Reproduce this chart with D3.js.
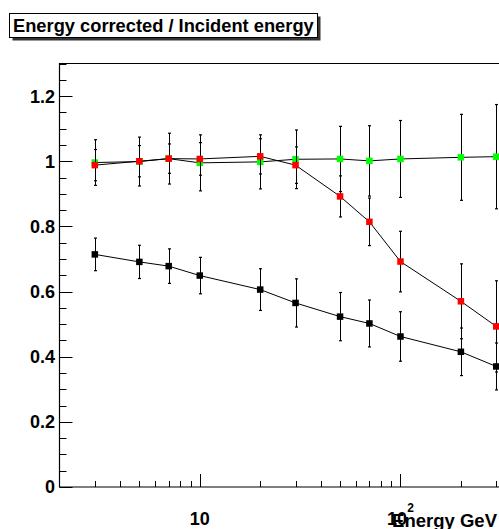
<!DOCTYPE html>
<html>
<head>
<meta charset="utf-8">
<script src="https://cdn.jsdelivr.net/npm/d3@7"></script>
<style>
  html, body { margin: 0; padding: 0; background: #fff; }
  svg { display: block; }
  text { font-family: "Liberation Sans", Arial, Helvetica, sans-serif; font-weight: bold; fill: #000; }
</style>
</head>
<body>
<svg id="chart" width="499" height="529"></svg>
<script>
// Beam energies (GeV) and the measured energy ratios with their errors
const energies = [3, 5, 7, 10, 20, 30, 50, 70, 100, 200, 300];

const flatRatio    = [0.996, 0.999, 1.008, 0.995, 0.998, 1.006, 1.007, 1.001, 1.007, 1.012, 1.014];
const flatError    = [0.070, 0.075, 0.078, 0.086, 0.083, 0.090, 0.100, 0.108, 0.118, 0.132, 0.160];

const droopRatio   = [0.988, 1.000, 1.008, 1.007, 1.015, 0.988, 0.892, 0.814, 0.692, 0.570, 0.493];
const droopError   = [0.048, 0.048, 0.045, 0.050, 0.054, 0.056, 0.063, 0.073, 0.093, 0.115, 0.140];

const rawRatio     = [0.714, 0.691, 0.678, 0.649, 0.606, 0.565, 0.523, 0.502, 0.462, 0.415, 0.370];
const rawError     = [0.050, 0.051, 0.053, 0.056, 0.064, 0.074, 0.074, 0.072, 0.076, 0.073, 0.072];

// Axis ticks and labels
const yMajorTicks  = [0, 0.2, 0.4, 0.6, 0.8, 1.0, 1.2];
const yTickLabels  = ["0", "0.2", "0.4", "0.6", "0.8", "1", "1.2"];
const xMajorTicks  = [10, 100];
const xTickBases   = ["10", "10"];
const xTickExps    = ["", "2"];
const xMinorTicks  = [3, 4, 5, 6, 7, 8, 9, 20, 30, 40, 50, 60, 70, 80, 90, 200, 300, 400];

const titleText = "Energy corrected / Incident energy";
const xTitle = "Energy GeV";

const svg = d3.select("#chart");

// Frame geometry
const frameLeft = 59.5, frameTop = 63.5, frameBottom = 487;
const decadePx = 200.7;
const xDomain = [2, 500];
const frameRight = frameLeft + decadePx * Math.log10(xDomain[1] / xDomain[0]);

const x = d3.scaleLog().domain(xDomain).range([frameLeft, frameRight]);
const y = d3.scaleLinear().domain([0, 1.3]).range([frameBottom, frameTop]);

// Frame outline
svg.append("path")
  .attr("d", `M${frameLeft},${frameBottom} L${frameLeft},${frameTop} L${frameRight},${frameTop} L${frameRight},${frameBottom} Z`)
  .attr("fill", "none").attr("stroke", "#000").attr("stroke-width", 1.2);

// Y axis ticks, major and minor (every 0.05)
const yMinor = d3.range(0, 1.3001, 0.05).filter(v => !yMajorTicks.some(m => Math.abs(m - v) < 1e-6));
const gy = svg.append("g");
gy.selectAll("line.maj").data(yMajorTicks).join("line").attr("class", "maj")
  .attr("x1", frameLeft).attr("x2", frameLeft + 13)
  .attr("y1", d => Math.round(y(d)) + 0.5).attr("y2", d => Math.round(y(d)) + 0.5)
  .attr("stroke", "#000");
gy.selectAll("line.min").data(yMinor).join("line").attr("class", "min")
  .attr("x1", frameLeft).attr("x2", frameLeft + 7)
  .attr("y1", d => Math.round(y(d)) + 0.5).attr("y2", d => Math.round(y(d)) + 0.5)
  .attr("stroke", "#000");
gy.selectAll("text").data(yMajorTicks).join("text")
  .attr("x", 55).attr("y", d => y(d))
  .attr("dy", "0.36em")
  .attr("text-anchor", "end")
  .attr("font-size", 18)
  .text((d, i) => yTickLabels[i]);

// X axis ticks (log scale)
const gx = svg.append("g");
gx.selectAll("line.maj").data(xMajorTicks).join("line").attr("class", "maj")
  .attr("x1", d => Math.round(x(d)) + 0.5).attr("x2", d => Math.round(x(d)) + 0.5)
  .attr("y1", frameBottom).attr("y2", frameBottom - 13)
  .attr("stroke", "#000");
gx.selectAll("line.min").data(xMinorTicks).join("line").attr("class", "min")
  .attr("x1", d => Math.round(x(d)) + 0.5).attr("x2", d => Math.round(x(d)) + 0.5)
  .attr("y1", frameBottom).attr("y2", frameBottom - 6)
  .attr("stroke", "#000");

// Axis title, right-aligned
svg.append("text")
  .attr("x", 497).attr("y", 527)
  .attr("text-anchor", "end")
  .attr("font-size", 18.5)
  .text(xTitle);

// X tick labels (with power-of-ten exponent)
xMajorTicks.forEach((v, i) => {
  const t = svg.append("text")
    .attr("x", x(v)).attr("y", 525)
    .attr("text-anchor", "middle")
    .attr("font-size", 18);
  t.append("tspan").text(xTickBases[i]);
  if (xTickExps[i]) {
    t.append("tspan").attr("font-size", 12).attr("dy", -13).text(xTickExps[i]);
  }
});

// One series: connecting line, error bars, square markers
function drawSeries(vals, errs, color) {
  const pts = energies.map((e, i) => ({ e, v: vals[i], err: errs[i] }));
  const g = svg.append("g");
  g.append("path")
    .datum(pts)
    .attr("d", d3.line().x(d => x(d.e)).y(d => y(d.v)))
    .attr("fill", "none").attr("stroke", "#000").attr("stroke-width", 1);
  const bars = g.selectAll("g.err").data(pts).join("g").attr("class", "err");
  bars.append("line")
    .attr("x1", d => Math.round(x(d.e)) + 0.5).attr("x2", d => Math.round(x(d.e)) + 0.5)
    .attr("y1", d => y(d.v + d.err)).attr("y2", d => y(d.v - d.err))
    .attr("stroke", "#000").attr("stroke-width", 1);
  [1, -1].forEach(s => {
    bars.append("line")
      .attr("x1", d => Math.round(x(d.e)) - 1).attr("x2", d => Math.round(x(d.e)) + 2)
      .attr("y1", d => y(d.v + s * d.err)).attr("y2", d => y(d.v + s * d.err))
      .attr("stroke", "#000").attr("stroke-width", 1.2);
  });
  const m = 6.5;
  g.selectAll("rect").data(pts).join("rect")
    .attr("x", d => x(d.e) - m / 2).attr("y", d => y(d.v) - m / 2)
    .attr("width", m).attr("height", m)
    .attr("fill", color);
}

drawSeries(flatRatio, flatError, "#00ff00");
drawSeries(rawRatio, rawError, "#000000");
drawSeries(droopRatio, droopError, "#ff0000");

// Title box with drop shadow
const tb = { x: 9.5, y: 13.5, w: 308, h: 24 };
svg.append("rect")
  .attr("x", tb.x + 3).attr("y", tb.y + 3).attr("width", tb.w).attr("height", tb.h)
  .attr("fill", "#333");
svg.append("rect")
  .attr("x", tb.x).attr("y", tb.y).attr("width", tb.w).attr("height", tb.h)
  .attr("fill", "#fff").attr("stroke", "#000").attr("stroke-width", 1);
svg.append("text")
  .attr("x", 13).attr("y", 32)
  .attr("font-size", 18.3)
  .text(titleText);
</script>
</body>
</html>
